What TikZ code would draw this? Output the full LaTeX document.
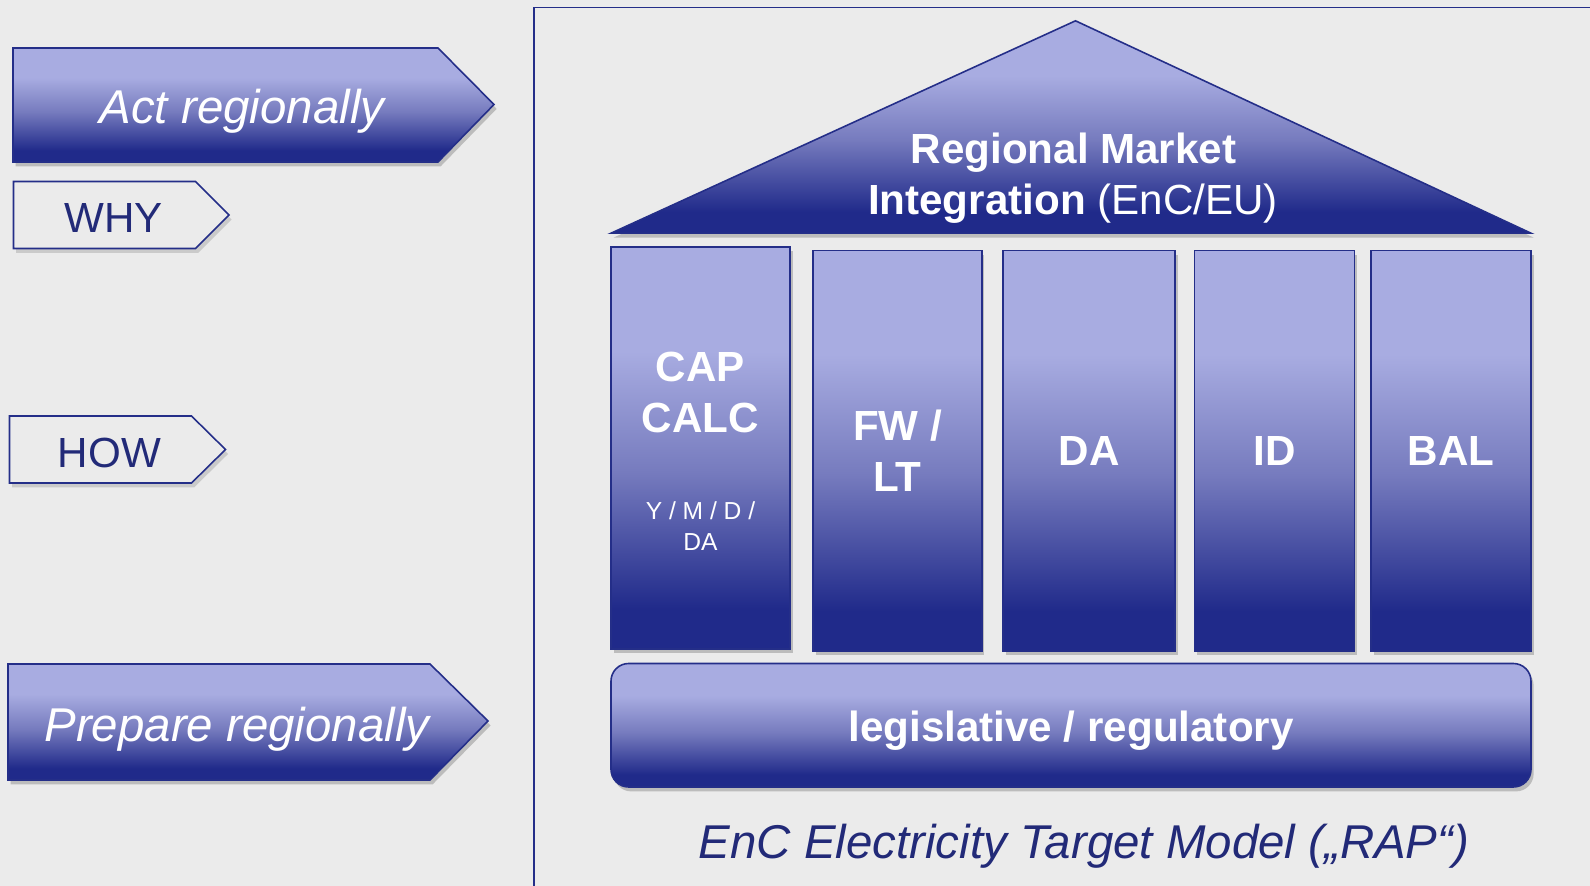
\documentclass[tikz,border=0pt]{standalone}
\usepackage{fontspec}
\setmainfont{Liberation Sans}
\usetikzlibrary{shadows}
\definecolor{bgC}{RGB}{235,235,235}
\definecolor{lavC}{RGB}{168,172,225}
\definecolor{midC}{RGB}{118,123,190}
\definecolor{navyC}{RGB}{32,42,138}
\definecolor{edgeC}{RGB}{36,46,136}
\definecolor{inkC}{RGB}{34,42,120}
\pgfdeclareverticalshading{pillarshade}{100bp}{color(0bp)=(navyC); color(30bp)=(navyC); color(47bp)=(midC); color(62bp)=(lavC); color(100bp)=(lavC)}
\begin{document}
\begin{tikzpicture}[x=0.02cm,y=-0.02cm,
    blueshape/.style={shade,shading=pillarshade,draw=edgeC,line width=0.9pt,
      drop shadow={shadow xshift=1.5pt,shadow yshift=-2.5pt,opacity=.35,fill=black!60}},
    tagshape/.style={fill=bgC,draw=edgeC,line width=0.9pt,
      drop shadow={shadow xshift=1.5pt,shadow yshift=-2.5pt,opacity=.3,fill=black!50}},
    pillar/.style={blueshape,inner sep=0pt,text=white,align=center,font=\fontsize{24}{29.5}\selectfont\bfseries},
    bigtext/.style={text=white,font=\fontsize{27}{32}\selectfont\itshape,anchor=base},
    tagtext/.style={text=inkC,font=\fontsize{24}{28}\selectfont,anchor=base},
    whitebold/.style={text=white,font=\fontsize{24}{29}\selectfont\bfseries,anchor=base},
    whiteplain/.style={text=white,font=\fontsize{24}{29}\selectfont,anchor=base},
    smalltext/.style={text=white,font=\fontsize{14}{19}\selectfont,anchor=base}]
\fill[bgC](0,0)rectangle(1590,886);
\useasboundingbox(0,0)rectangle(1590,886);
\draw[edgeC,line width=1.1pt](534,886)--(534,7.5)--(1590,7.5);%frame
% left column of arrows
\path[blueshape](13,48)--(438,48)--(494,104.5)--(438,162)--(13,162)--cycle;
\node[bigtext](act)at(242,123.5){Act regionally};
\path[tagshape](13.5,181.5)--(195.5,181.5)--(229,215)--(195.5,248.5)--(13.5,248.5)--cycle;
\node[tagtext](why)at(113.5,232){WHY};
\path[tagshape](9.5,416)--(191.5,416)--(225.5,449.5)--(191.5,483)--(9.5,483)--cycle;
\node[tagtext](how)at(109.5,467.5){HOW};
\path[blueshape](8,664)--(430,664)--(488,721)--(430,780)--(8,780)--cycle;
\node[bigtext](prep)at(237,741){Prepare regionally};
% roof
\path[blueshape](611,233.2)--(1075.5,20.8)--(1531,233.2)--cycle;
\node[whitebold](roofa)at(1073.5,163.3){Regional Market};
\node[whiteplain](roofb)at(1073,214){\textbf{Integration} (EnC/EU)};
% pillars
\node[pillar,minimum width=3.58cm,minimum height=8.04cm](capcol)at(700.5,448){};
\node[whitebold](cap)at(700.5,381.7){CAP};
\node[whitebold](calc)at(700.5,432.3){CALC};
\node[smalltext](ymd)at(700.5,519.3){Y / M / D /};
\node[smalltext](ymdda)at(700.5,550.7){DA};
\node[pillar,minimum width=3.37cm,minimum height=8.01cm](fwcol)at(897.5,450.75){FW /\\LT};
\foreach \cx/\colw/\nm/\lab in {1089/3.44/dacol/DA,1274.6/3.204/idcol/ID,1451/3.2/balcol/BAL}
  \node[pillar,minimum width=\colw cm,minimum height=8.01cm](\nm)at(\cx,450.75){\lab};
% base
\path[blueshape,rounded corners=10pt](611,663.5)rectangle(1531,787);
\node[whitebold](legal)at(1071,741){legislative / regulatory};
\node[tagtext,font=\fontsize{27}{32}\selectfont\itshape](caption)at(1084,858){EnC Electricity Target Model („RAP“)};
\end{tikzpicture}
\end{document}
